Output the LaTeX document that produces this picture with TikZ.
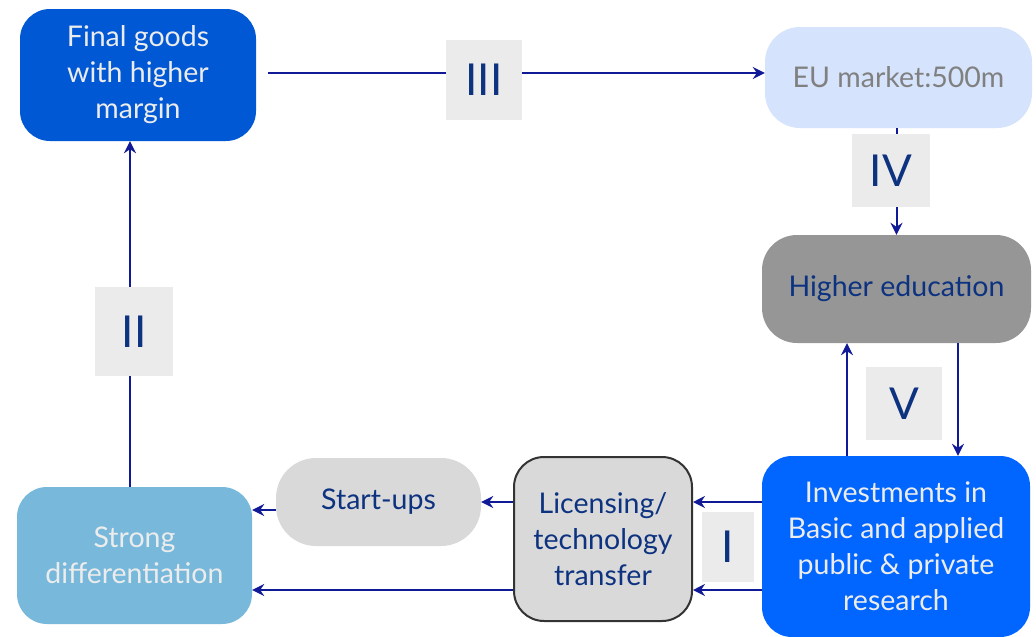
\documentclass[tikz,border=0pt]{standalone}
\usepackage{fontspec}
\setmainfont{Lato}
\usetikzlibrary{calc,arrows.meta}
\definecolor{fgblue}{RGB}{0,88,212}
\definecolor{eublue}{RGB}{213,227,252}
\definecolor{hegray}{RGB}{150,150,150}
\definecolor{invblue}{RGB}{0,102,255}
\definecolor{boxgray}{RGB}{217,217,217}
\definecolor{sdblue}{RGB}{119,184,219}
\definecolor{navytext}{RGB}{12,50,128}
\definecolor{arrowc}{RGB}{16,26,150}
\definecolor{lightt}{RGB}{236,236,236}
\definecolor{eutext}{RGB}{128,128,128}
\definecolor{labfill}{RGB}{235,235,235}
\tikzset{
  box/.style={rounded corners=30pt, align=center, inner sep=0pt, font=\fontsize{28.5}{36}\selectfont},
  lab/.style={fill=labfill, inner sep=0pt, text=navytext, font=\fontsize{44}{48}\selectfont},
  arr/.style={draw=arrowc, line width=2pt, -{Stealth[length=12pt,width=12pt,inset=4pt]}},
  ln/.style={draw=arrowc, line width=2pt}
}
\begin{document}
\begin{tikzpicture}[x=1pt,y=-1pt]
\useasboundingbox (0,0) rectangle (1036,637);
% nodes
\node[box, fill=fgblue, text=lightt, minimum width=236pt, minimum height=132pt] (fg) at (138,75) {Final goods\\with higher\\margin};
\node[box, fill=eublue, text=eutext, minimum width=267pt, minimum height=101pt, rounded corners=35pt] (eu) at (898.5,77.5) {EU market:500m};
\node[box, fill=hegray, text=navytext, minimum width=269pt, minimum height=108pt, rounded corners=35pt] (he) at (896.5,289) {Higher education};
\node[box, fill=invblue, text=lightt, minimum width=268pt, minimum height=181pt] (inv) at (896,546.5) {Investments in\\Basic and applied\\public \& private\\research};
\node[box, fill=boxgray, draw=black!80, line width=2pt, text=navytext, minimum width=178pt, minimum height=164pt] (lic) at (603,539) {Licensing/\\technology\\transfer};
\node[box, fill=boxgray, text=navytext, minimum width=205pt, minimum height=88pt, rounded corners=40pt] (su) at (378.5,502) {Start-ups};
\node[box, fill=sdblue, text=lightt, minimum width=235pt, minimum height=137pt] (sd) at (134.5,555.5) {Strong\\differentiation};
% connectors
\coordinate (c3s) at ($(fg.east)+(12,-2)$);
\draw[arr] (c3s) -- (c3s -| eu.west);
\draw[arr] (eu.south -| he.north) -- (he.north);
\draw[arr] ([xshift=61.5pt]he.south) -- ([xshift=61.5pt]he.south |- inv.north);
\draw[arr] ([xshift=-49pt]inv.north) -- ([xshift=-49pt]inv.north |- he.south);
\draw[arr] ([yshift=44.5pt]inv.west) -- ([yshift=44.5pt]inv.west -| lic.east);
\draw[arr] ([yshift=-43.5pt]inv.west) -- ([yshift=-43.5pt]inv.west -| lic.east);
\draw[arr] (lic.west |- su.east) -- (su.east);
\draw[arr] ([yshift=-8pt]su.west) -- ([yshift=-8pt]su.west -| sd.east);
\draw[arr] ([yshift=-51pt]lic.west) -- ([yshift=-51pt]lic.west -| sd.east);
\draw[arr] ([xshift=-4.5pt]sd.north) -- ([xshift=-4.5pt]sd.north |- fg.south);
% labels
\node[lab, minimum width=76pt, minimum height=80pt] (l3) at (484,80) {III};
\node[lab, minimum width=78pt, minimum height=73pt] (l4) at (891,170.5) {IV};
\node[lab, minimum width=78pt, minimum height=89pt] (l2) at (134,331.5) {II};
\node[lab, minimum width=76pt, minimum height=73pt] (l5) at (904,403.5) {V};
\node[lab, minimum width=52pt, minimum height=70pt] (l1) at (728,547) {I};
\end{tikzpicture}
\end{document}
